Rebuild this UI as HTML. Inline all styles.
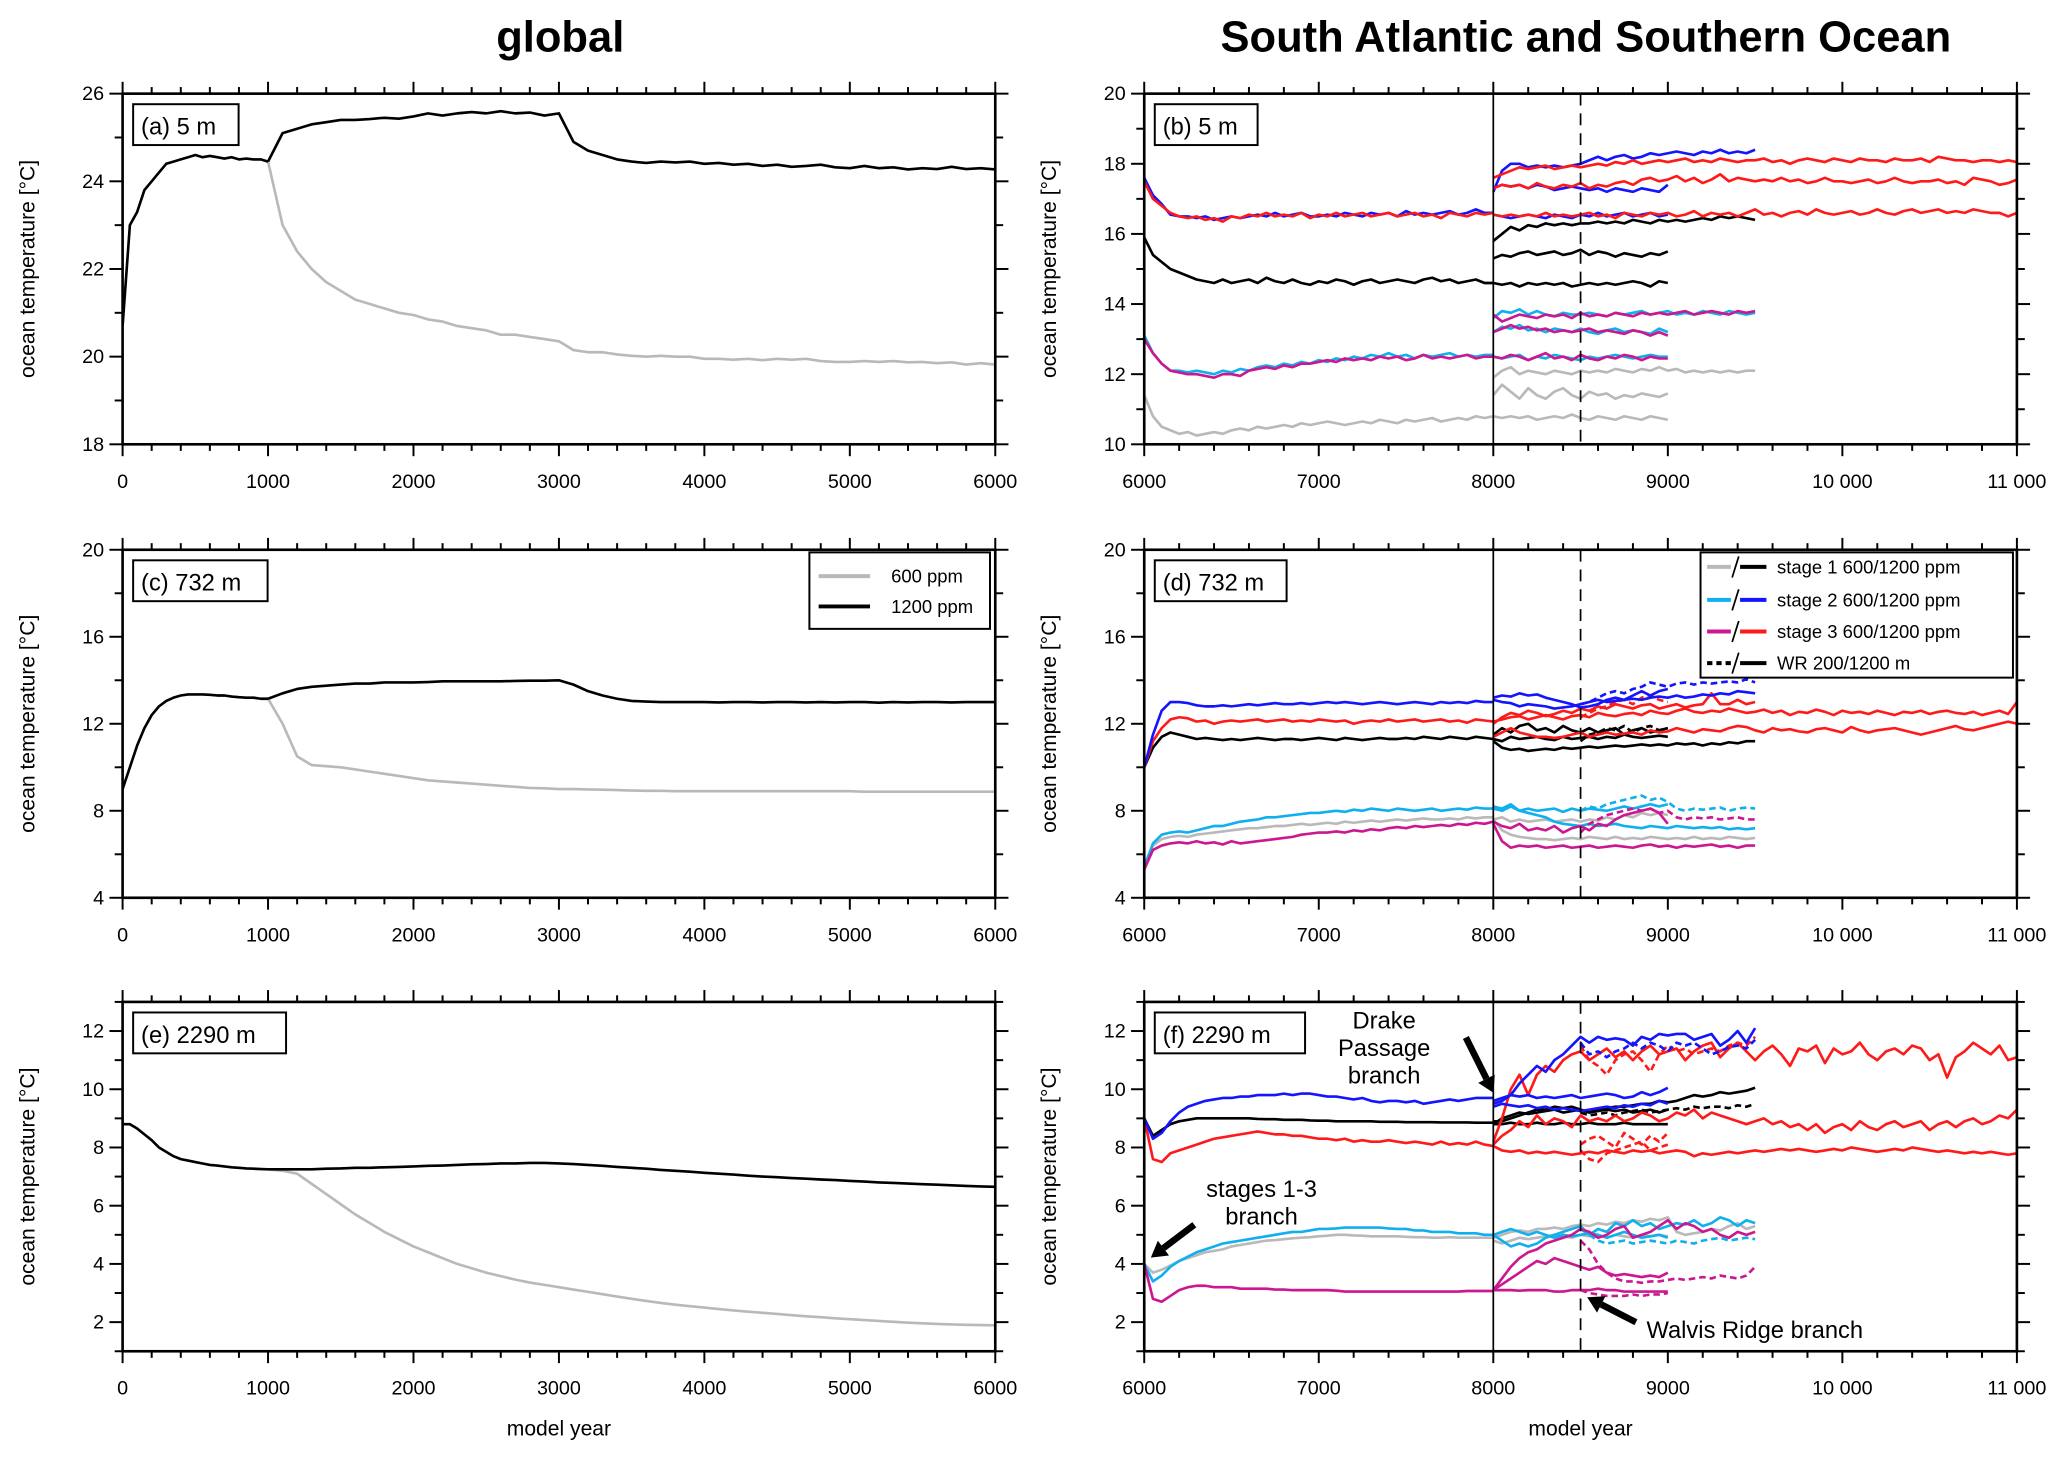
<!DOCTYPE html>
<html><head><meta charset="utf-8"><style>
html,body{margin:0;padding:0;background:#fff;}
svg{display:block;font-family:"Liberation Sans",Arial,sans-serif;}
</style></head><body>
<svg id="fig" width="2067" height="1466" viewBox="0 0 1568 1112" xmlns="http://www.w3.org/2000/svg">
<rect x="0" y="0" width="1568" height="1112" fill="#fff"/>
<text x="425" y="39" text-anchor="middle" font-size="33" font-weight="bold">global</text>
<text x="1203" y="39" text-anchor="middle" font-size="33" font-weight="bold">South Atlantic and Southern Ocean</text>
<g id="layer"></g>
</svg>
<script>
// ---- data: panel (a) global 5 m ----
const a_black_early = [20.7,23.0,23.3,23.8,24.0,24.2,24.4,24.45,24.5,24.55,24.6,24.55,24.58,24.55,24.52,24.55,24.5,24.52,24.5,24.5,24.45];
const a_black = [24.45,25.1,25.2,25.3,25.35,25.4,25.4,25.42,25.45,25.43,25.48,25.55,25.5,25.55,25.58,25.55,25.6,25.55,25.57,25.5,25.55,24.9,24.7,24.6,24.5,24.45,24.42,24.45,24.43,24.45,24.4,24.42,24.38,24.4,24.35,24.38,24.33,24.35,24.38,24.32,24.3,24.35,24.3,24.32,24.27,24.3,24.28,24.33,24.28,24.3,24.27];
const a_gray = [24.45,23.0,22.4,22.0,21.7,21.5,21.3,21.2,21.1,21.0,20.95,20.85,20.8,20.7,20.65,20.6,20.5,20.5,20.45,20.4,20.35,20.15,20.1,20.1,20.05,20.02,20.0,20.02,20.0,20.0,19.95,19.95,19.93,19.95,19.92,19.95,19.93,19.95,19.9,19.88,19.88,19.9,19.88,19.9,19.87,19.88,19.85,19.87,19.82,19.85,19.82];
// ---- panel (c) global 732 m ----
const c_black_early = [9.0,10.0,11.0,11.8,12.4,12.8,13.05,13.2,13.3,13.35,13.35,13.35,13.33,13.3,13.3,13.25,13.22,13.2,13.2,13.15,13.15];
const c_black = [13.15,13.4,13.6,13.7,13.75,13.8,13.85,13.85,13.9,13.9,13.9,13.92,13.95,13.95,13.95,13.95,13.95,13.97,13.98,13.98,14.0,13.8,13.5,13.3,13.15,13.05,13.02,13.0,13.0,13.0,13.0,12.98,13.0,13.0,12.98,13.0,13.0,12.98,13.0,12.98,13.0,13.0,12.97,13.0,12.98,13.0,13.0,12.98,13.0,13.0,13.0];
const c_gray = [13.15,12.0,10.5,10.1,10.05,10.0,9.9,9.8,9.7,9.6,9.5,9.4,9.35,9.3,9.25,9.2,9.15,9.1,9.05,9.03,9.0,9.0,8.98,8.97,8.95,8.93,8.92,8.92,8.9,8.9,8.9,8.9,8.9,8.9,8.9,8.9,8.9,8.9,8.9,8.9,8.9,8.88,8.88,8.88,8.88,8.88,8.88,8.88,8.88,8.88,8.88];
// ---- panel (e) global 2290 m ----
const e_black_early = [8.8,8.8,8.65,8.45,8.25,8.0,7.85,7.7,7.6,7.55,7.5,7.45,7.4,7.38,7.35,7.32,7.3,7.28,7.27,7.26,7.25];
const e_black = [7.25,7.25,7.25,7.25,7.27,7.28,7.3,7.3,7.32,7.33,7.35,7.37,7.38,7.4,7.42,7.43,7.45,7.45,7.47,7.47,7.45,7.43,7.4,7.37,7.33,7.3,7.27,7.23,7.2,7.17,7.13,7.1,7.07,7.03,7.0,6.98,6.95,6.93,6.9,6.88,6.85,6.83,6.8,6.78,6.76,6.74,6.72,6.7,6.68,6.66,6.65];
const e_gray = [7.25,7.2,7.1,6.75,6.4,6.05,5.7,5.4,5.1,4.85,4.6,4.4,4.2,4.0,3.85,3.7,3.58,3.46,3.36,3.28,3.2,3.12,3.04,2.96,2.88,2.8,2.73,2.66,2.6,2.55,2.5,2.45,2.4,2.36,2.32,2.28,2.24,2.2,2.17,2.13,2.1,2.07,2.04,2.01,1.98,1.96,1.94,1.92,1.91,1.9,1.89];
// ---- panel (b) SA 5 m ----
const b_red = [17.5,17.0,16.8,16.6,16.5,16.45,16.5,16.4,16.45,16.35,16.5,16.45,16.55,16.5,16.6,16.5,16.55,16.5,16.6,16.45,16.55,16.5,16.6,16.5,16.55,16.6,16.5,16.55,16.6,16.5,16.55,16.6,16.5,16.55,16.45,16.6,16.55,16.5,16.6,16.55,16.6];
const b_blue = [17.6,17.1,16.85,16.55,16.5,16.5,16.45,16.5,16.4,16.45,16.5,16.45,16.5,16.55,16.5,16.6,16.5,16.55,16.6,16.5,16.5,16.55,16.5,16.6,16.55,16.5,16.6,16.55,16.6,16.5,16.65,16.55,16.6,16.55,16.6,16.65,16.55,16.6,16.7,16.6,16.6];
const b_blue_up = [17.2,17.8,18.0,18.0,17.9,17.95,17.9,17.95,17.9,17.95,18.0,18.1,18.2,18.1,18.2,18.25,18.15,18.2,18.3,18.25,18.3,18.35,18.3,18.25,18.35,18.3,18.4,18.3,18.35,18.3,18.4];
const b_red_up = [17.6,17.7,17.8,17.9,17.85,17.9,17.95,17.85,17.9,17.95,17.9,17.95,18.0,17.95,18.05,18.0,18.1,18.0,18.05,18.1,18.05,18.1,18.15,18.05,18.1,18.05,18.15,18.1,18.05,18.1,18.1,18.15,18.05,18.1,18.0,18.1,18.15,18.1,18.05,18.15,18.1,18.05,18.15,18.1,18.1,18.05,18.15,18.1,18.1,18.15,18.05,18.2,18.15,18.1,18.1,18.05,18.1,18.1,18.05,18.1,18.05];
const b_red_mid = [17.3,17.4,17.35,17.4,17.3,17.45,17.35,17.3,17.4,17.35,17.45,17.3,17.4,17.35,17.45,17.5,17.4,17.55,17.6,17.5,17.55,17.65,17.5,17.6,17.45,17.55,17.7,17.5,17.6,17.55,17.5,17.55,17.5,17.6,17.5,17.55,17.45,17.5,17.6,17.5,17.5,17.45,17.5,17.55,17.45,17.5,17.6,17.5,17.45,17.5,17.5,17.55,17.45,17.5,17.4,17.6,17.55,17.5,17.4,17.45,17.55];
const b_blue_mid = [17.3,17.4,17.35,17.4,17.3,17.4,17.35,17.25,17.3,17.35,17.3,17.25,17.3,17.2,17.3,17.25,17.2,17.3,17.25,17.2,17.4];
const b_red_low = [16.55,16.5,16.55,16.5,16.55,16.5,16.6,16.5,16.55,16.5,16.55,16.6,16.5,16.55,16.45,16.6,16.55,16.5,16.6,16.55,16.6,16.5,16.55,16.65,16.5,16.6,16.55,16.6,16.5,16.6,16.7,16.55,16.6,16.5,16.6,16.65,16.55,16.7,16.6,16.55,16.6,16.65,16.55,16.6,16.7,16.6,16.55,16.65,16.7,16.6,16.65,16.7,16.6,16.65,16.6,16.7,16.65,16.6,16.6,16.5,16.6];
const b_blue_low = [16.55,16.5,16.45,16.5,16.55,16.5,16.45,16.55,16.5,16.45,16.55,16.5,16.6,16.5,16.55,16.6,16.5,16.55,16.6,16.5,16.55];
const b_black = [15.9,15.4,15.2,15.0,14.9,14.8,14.7,14.65,14.6,14.7,14.6,14.65,14.7,14.6,14.75,14.65,14.6,14.7,14.6,14.55,14.65,14.6,14.7,14.65,14.55,14.65,14.7,14.6,14.65,14.7,14.65,14.6,14.7,14.75,14.65,14.7,14.6,14.65,14.7,14.6,14.6];
const b_black_up = [15.8,16.0,16.2,16.1,16.25,16.2,16.3,16.25,16.3,16.25,16.3,16.3,16.35,16.3,16.35,16.3,16.4,16.35,16.3,16.4,16.35,16.4,16.35,16.4,16.45,16.4,16.5,16.45,16.5,16.45,16.4];
const b_black_mid = [15.3,15.4,15.35,15.45,15.5,15.4,15.45,15.5,15.4,15.45,15.55,15.4,15.5,15.45,15.35,15.45,15.4,15.35,15.45,15.4,15.5];
const b_black_low = [14.6,14.55,14.6,14.5,14.6,14.55,14.6,14.55,14.6,14.5,14.55,14.6,14.55,14.6,14.55,14.6,14.65,14.6,14.5,14.65,14.6];
const b_mag = [13.0,12.6,12.3,12.1,12.05,12.0,12.0,11.95,11.9,12.0,12.0,11.95,12.1,12.15,12.2,12.15,12.25,12.2,12.3,12.3,12.35,12.4,12.35,12.45,12.4,12.45,12.4,12.5,12.45,12.5,12.4,12.45,12.55,12.45,12.5,12.45,12.5,12.55,12.45,12.5,12.5];
const b_cyan = [13.1,12.6,12.3,12.1,12.1,12.05,12.1,12.05,12.0,12.1,12.05,12.15,12.1,12.2,12.25,12.2,12.3,12.25,12.35,12.3,12.4,12.35,12.45,12.4,12.5,12.45,12.55,12.5,12.6,12.5,12.55,12.45,12.55,12.5,12.55,12.6,12.5,12.55,12.5,12.55,12.55];
const b_cyan_up = [13.6,13.8,13.75,13.85,13.7,13.8,13.7,13.65,13.75,13.7,13.7,13.75,13.7,13.65,13.75,13.7,13.75,13.8,13.7,13.75,13.8,13.7,13.75,13.7,13.8,13.75,13.7,13.8,13.75,13.7,13.75];
const b_mag_up = [13.7,13.5,13.6,13.7,13.65,13.6,13.7,13.65,13.7,13.6,13.75,13.65,13.7,13.65,13.75,13.7,13.65,13.75,13.7,13.75,13.7,13.75,13.8,13.7,13.75,13.8,13.75,13.7,13.8,13.75,13.8];
const b_cyan_mid = [13.2,13.35,13.3,13.4,13.25,13.3,13.2,13.3,13.25,13.2,13.3,13.2,13.15,13.25,13.3,13.2,13.25,13.2,13.15,13.3,13.2];
const b_mag_mid = [13.2,13.3,13.4,13.3,13.35,13.25,13.3,13.2,13.25,13.2,13.25,13.3,13.2,13.25,13.2,13.15,13.25,13.2,13.1,13.2,13.1];
const b_cyan_low = [12.5,12.45,12.5,12.55,12.4,12.5,12.45,12.55,12.5,12.45,12.4,12.5,12.45,12.5,12.55,12.5,12.45,12.5,12.55,12.5,12.5];
const b_mag_low = [12.5,12.45,12.55,12.5,12.4,12.5,12.6,12.45,12.5,12.4,12.55,12.45,12.4,12.5,12.45,12.55,12.5,12.4,12.5,12.45,12.45];
const b_gray = [11.4,10.8,10.5,10.4,10.3,10.35,10.25,10.3,10.35,10.3,10.4,10.45,10.4,10.5,10.45,10.5,10.55,10.5,10.6,10.55,10.6,10.65,10.6,10.55,10.6,10.65,10.6,10.7,10.65,10.6,10.7,10.65,10.7,10.75,10.65,10.7,10.75,10.7,10.8,10.75,10.8];
const b_gray_up = [11.9,12.1,12.2,12.0,12.1,12.05,12.0,12.1,12.05,12.0,12.1,12.05,12.1,12.05,12.15,12.1,12.05,12.15,12.1,12.2,12.1,12.15,12.05,12.1,12.05,12.1,12.05,12.1,12.05,12.1,12.1];
const b_gray_mid = [11.4,11.7,11.5,11.3,11.6,11.4,11.3,11.5,11.6,11.4,11.3,11.5,11.4,11.45,11.3,11.4,11.35,11.45,11.4,11.35,11.45];
const b_gray_low = [10.8,10.75,10.8,10.75,10.8,10.7,10.75,10.8,10.75,10.85,10.75,10.7,10.8,10.75,10.7,10.8,10.75,10.7,10.8,10.75,10.7];
// ---- panel (d) SA 732 m ----
const d_blue = [10.0,11.5,12.6,13.0,13.0,12.95,12.85,12.8,12.8,12.85,12.8,12.85,12.9,12.85,12.9,12.95,12.9,12.9,12.95,12.9,12.95,13.0,12.95,13.0,12.95,12.9,12.95,13.0,12.95,12.9,12.95,13.0,12.95,12.9,13.0,12.95,13.0,12.95,13.05,13.0,13.0];
const d_red = [10.0,11.2,11.8,12.2,12.3,12.25,12.1,12.15,12.0,12.1,12.15,12.1,12.15,12.2,12.1,12.15,12.2,12.1,12.15,12.1,12.2,12.15,12.1,12.15,12.0,12.1,12.15,12.1,12.2,12.1,12.15,12.2,12.1,12.15,12.2,12.1,12.15,12.05,12.2,12.15,12.1];
const d_black = [10.0,10.9,11.4,11.6,11.5,11.4,11.3,11.35,11.3,11.25,11.3,11.25,11.3,11.35,11.3,11.25,11.3,11.3,11.25,11.3,11.35,11.3,11.25,11.35,11.3,11.25,11.3,11.35,11.3,11.3,11.35,11.3,11.4,11.35,11.3,11.4,11.35,11.3,11.4,11.35,11.3];
const d_blue_a = [13.1,13.0,12.95,12.8,12.9,12.85,12.8,12.7,12.75,12.8,12.9,13.0,13.1,13.0,13.05,13.1,13.15,13.1,13.2,13.25,13.2,13.3,13.2,13.25,13.35,13.3,13.4,13.35,13.5,13.45,13.4];
const d_blue_b = [13.2,13.3,13.25,13.4,13.3,13.35,13.2,13.1,13.0,12.9,12.75,12.8,12.9,13.1,13.2,13.1,13.3,13.5,13.3,13.5,13.6];
const d_blue_dash = [12.9,13.0,13.2,13.4,13.5,13.4,13.6,13.7,13.9,13.8,13.7,13.85,13.9,13.8,13.9,13.85,13.9,13.95,13.9,14.05,13.9];
const d_red_a = [11.4,11.6,11.8,11.6,11.5,11.4,11.4,11.35,11.4,11.5,11.6,11.4,11.5,11.6,11.5,11.55,11.6,11.5,11.7,11.6,11.65,11.8,11.7,11.6,11.75,11.7,11.65,11.8,11.9,11.85,11.7,11.6,11.8,11.7,11.75,11.65,11.6,11.75,11.8,11.7,11.6,11.85,11.7,11.6,11.7,11.75,11.8,11.7,11.6,11.5,11.6,11.7,11.8,11.9,11.75,11.7,11.8,11.9,12.0,12.1,12.0];
const d_red_b = [12.1,12.2,12.3,12.35,12.2,12.3,12.4,12.3,12.2,12.35,12.4,12.3,12.5,12.4,12.35,12.45,12.5,12.4,12.6,12.5,12.45,12.6,12.7,12.55,12.5,12.6,12.55,12.7,12.6,12.5,12.55,12.65,12.5,12.6,12.4,12.55,12.5,12.65,12.55,12.4,12.6,12.5,12.55,12.45,12.6,12.5,12.4,12.55,12.5,12.6,12.45,12.55,12.6,12.5,12.45,12.55,12.4,12.5,12.6,12.45,13.0];
const d_red_c = [12.0,12.3,12.5,12.4,12.6,12.5,12.35,12.45,12.6,12.5,12.7,12.6,12.8,12.7,12.9,12.8,12.7,12.85,12.9,12.7,12.8,12.9,12.75,12.85,12.9,13.4,12.9,12.9,13.1,12.9,13.0];
const d_red_dash = [12.3,12.5,12.7,12.8,13.0,13.1,12.9,13.2,13.3,13.1,13.0];
const d_black_a = [11.2,10.9,10.8,10.85,10.75,10.8,10.85,10.8,10.9,10.85,10.9,10.95,10.9,10.95,11.0,10.95,11.0,11.05,11.0,11.05,11.0,11.1,11.05,11.1,11.0,11.1,11.05,11.15,11.1,11.2,11.2];
const d_black_b = [11.5,11.8,11.6,11.9,12.0,11.7,11.8,11.6,11.9,11.7,11.6,11.8,11.6,11.7,11.8,11.5,11.7,11.8,11.6,11.7,11.8];
const d_black_c = [11.3,11.2,11.4,11.3,11.35,11.4,11.3,11.25,11.4,11.3,11.35,11.4,11.3,11.4,11.35,11.5,11.4,11.35,11.4,11.45,11.4];
const d_black_dash = [11.2,11.5,11.6,11.8,11.7,11.9,11.6,11.8,11.9,11.7,11.8];
const d_cyan = [5.4,6.5,6.9,7.0,7.05,7.0,7.1,7.2,7.3,7.3,7.4,7.5,7.55,7.6,7.7,7.7,7.75,7.8,7.85,7.9,7.9,7.95,8.0,7.95,8.05,8.0,8.1,8.05,8.0,8.1,8.05,8.0,8.05,8.1,8.0,8.05,8.1,8.05,8.15,8.1,8.1];
const d_gray = [5.5,6.4,6.7,6.8,6.85,6.8,6.9,6.95,7.0,7.05,7.1,7.15,7.2,7.2,7.25,7.3,7.3,7.35,7.4,7.35,7.4,7.45,7.4,7.5,7.45,7.5,7.55,7.5,7.55,7.6,7.55,7.6,7.65,7.6,7.6,7.65,7.6,7.7,7.65,7.7,7.7];
const d_mag = [5.3,6.2,6.4,6.5,6.55,6.5,6.6,6.5,6.55,6.45,6.6,6.5,6.55,6.6,6.65,6.7,6.75,6.8,6.9,6.95,7.0,7.0,7.05,7.0,7.1,7.05,7.15,7.1,7.2,7.25,7.2,7.3,7.25,7.3,7.35,7.3,7.4,7.35,7.45,7.4,7.5];
const d_cyan_a = [8.1,8.0,8.2,8.0,7.9,7.8,7.7,7.5,7.4,7.35,7.3,7.4,7.3,7.35,7.4,7.3,7.25,7.2,7.3,7.25,7.2,7.3,7.25,7.2,7.25,7.2,7.25,7.15,7.2,7.15,7.2];
const d_cyan_b = [8.2,8.1,8.3,8.0,8.1,8.0,8.05,8.1,7.95,8.1,8.0,8.1,8.05,8.0,8.1,8.2,8.1,8.2,8.3,8.2,8.3];
const d_cyan_dash = [8.0,8.2,8.1,8.3,8.4,8.5,8.6,8.7,8.5,8.6,8.4,8.1,8.0,8.1,8.05,8.1,8.15,8.0,8.1,8.15,8.1];
const d_gray_a = [7.6,7.1,6.9,6.8,6.75,6.7,6.7,6.65,6.7,6.75,6.7,6.8,6.75,6.7,6.8,6.7,6.75,6.7,6.8,6.75,6.7,6.75,6.7,6.8,6.7,6.75,6.7,6.8,6.75,6.7,6.75];
const d_gray_b = [7.6,7.7,7.5,7.6,7.5,7.55,7.6,7.5,7.55,7.6,7.5,7.6,7.55,7.7,7.6,7.8,7.7,7.9,7.8,7.9,7.8];
const d_mag_a = [7.4,6.6,6.3,6.4,6.35,6.4,6.3,6.35,6.4,6.3,6.35,6.4,6.3,6.35,6.4,6.35,6.3,6.4,6.45,6.35,6.4,6.3,6.4,6.35,6.4,6.45,6.35,6.4,6.3,6.4,6.4];
const d_mag_b = [7.5,7.3,7.2,7.4,7.1,7.2,7.1,7.3,7.0,7.2,7.3,7.1,7.4,7.3,7.6,7.8,7.9,8.0,8.1,7.9,7.4];
const d_mag_dash = [7.0,7.4,7.6,7.8,7.9,8.0,8.1,8.0,8.1,7.9,8.0,7.7,7.6,7.7,7.65,7.7,7.6,7.65,7.7,7.6,7.6];
// ---- panel (f) SA 2290 m ----
const f_blue = [9.0,8.3,8.5,8.9,9.2,9.4,9.5,9.6,9.65,9.7,9.7,9.75,9.75,9.8,9.8,9.8,9.85,9.8,9.85,9.85,9.8,9.75,9.75,9.7,9.65,9.7,9.6,9.55,9.6,9.6,9.55,9.6,9.5,9.55,9.6,9.65,9.6,9.65,9.7,9.7,9.7];
const f_black = [9.0,8.4,8.6,8.8,8.9,8.95,9.0,9.0,9.0,9.0,9.0,9.0,9.0,8.98,8.97,8.97,8.95,8.95,8.95,8.93,8.92,8.92,8.9,8.9,8.9,8.9,8.9,8.88,8.88,8.88,8.87,8.87,8.87,8.87,8.86,8.86,8.86,8.86,8.85,8.85,8.85];
const f_red = [9.0,7.6,7.5,7.8,7.9,8.0,8.1,8.2,8.3,8.35,8.4,8.45,8.5,8.55,8.5,8.45,8.45,8.4,8.4,8.35,8.3,8.3,8.25,8.3,8.2,8.25,8.2,8.2,8.25,8.2,8.15,8.2,8.15,8.1,8.2,8.1,8.15,8.1,8.2,8.1,8.05];
const f_blue_up = [9.5,9.6,9.8,10.2,10.5,10.8,10.6,11.0,11.2,11.5,11.8,11.6,11.8,11.7,11.75,11.7,11.5,11.8,11.7,11.9,11.85,11.9,11.9,11.7,11.8,11.9,11.5,11.7,12.0,11.6,12.1];
const f_blue_dash = [11.6,11.2,11.3,11.1,11.3,11.4,11.6,11.4,11.6,11.5,11.3,11.6,11.5,11.6,11.4,11.2,11.3,11.45,11.5,11.4,11.7];
const f_blue_mid = [9.6,9.7,9.8,9.75,9.8,9.7,9.75,9.7,9.75,9.8,9.7,9.75,9.8,9.85,9.8,9.7,9.75,9.9,9.8,9.9,10.05];
const f_blue_low = [9.4,9.5,9.45,9.4,9.45,9.35,9.4,9.3,9.35,9.3,9.25,9.3,9.35,9.4,9.35,9.45,9.4,9.5,9.45,9.6,9.5];
const f_red_up = [8.2,9.0,10.0,10.5,9.8,10.5,10.8,10.6,11.0,11.2,11.3,11.0,11.2,11.4,11.1,11.3,11.0,11.3,11.5,11.2,11.3,11.4,11.0,11.3,11.5,11.6,11.1,11.4,11.6,11.3,11.0,11.3,11.5,11.2,10.8,11.4,11.3,11.5,10.9,11.4,11.2,11.3,11.6,11.2,11.0,11.3,11.4,11.2,11.5,11.4,11.0,11.2,10.4,11.1,11.3,11.6,11.4,11.2,11.5,11.0,11.1];
const f_red_mid = [8.1,8.4,8.6,8.9,8.7,9.1,8.8,9.0,8.9,8.7,9.1,8.9,9.0,8.9,9.1,8.9,9.0,9.2,9.1,8.9,9.0,9.2,9.1,9.3,9.0,9.2,9.1,9.0,8.9,8.8,8.9,9.0,8.8,8.9,8.7,8.8,8.6,8.8,8.5,8.7,8.8,8.6,8.9,8.7,8.6,8.8,8.9,8.7,8.8,8.9,8.6,8.8,8.9,8.7,8.9,9.0,8.8,8.9,9.1,9.0,9.3];
const f_red_low = [8.05,7.9,7.85,7.9,7.8,7.85,7.8,7.85,7.8,7.75,7.8,7.85,7.8,7.9,7.85,7.8,7.9,7.85,7.9,7.8,7.85,7.9,7.85,7.7,7.8,7.75,7.8,7.85,7.8,7.85,7.9,7.85,7.9,7.95,7.9,7.95,7.9,7.85,7.9,7.95,7.9,8.0,7.95,7.9,7.85,7.9,7.95,7.9,8.0,7.95,7.9,7.85,7.9,7.85,7.8,7.85,7.8,7.85,7.8,7.75,7.8];
const f_red_dash_a = [11.5,11.0,10.8,10.5,11.0,11.2,11.3,11.0,10.6,11.2,11.5,11.3,11.4,11.2,11.3,11.4,11.3,11.5,11.6,11.5,11.8];
const f_red_dash_b = [7.9,7.6,7.5,7.8,7.9,8.0,8.1,8.2,7.9,8.0,8.1];
const f_red_dash_c = [8.1,8.3,8.4,8.2,8.0,8.5,8.3,8.1,8.4,8.2,8.5];
const f_black_up = [8.9,8.9,9.0,9.1,9.2,9.3,9.3,9.4,9.35,9.4,9.3,9.2,9.3,9.35,9.4,9.4,9.45,9.5,9.5,9.6,9.55,9.6,9.7,9.8,9.75,9.8,9.9,9.85,9.9,9.95,10.05];
const f_black_mid = [8.8,9.0,9.1,9.2,9.15,9.2,9.25,9.3,9.2,9.25,9.3,9.2,9.25,9.3,9.25,9.3,9.2,9.25,9.3,9.2,9.3];
const f_black_low = [8.8,8.8,8.85,8.8,8.8,8.85,8.8,8.8,8.85,8.8,8.8,8.85,8.8,8.8,8.8,8.85,8.8,8.8,8.8,8.8,8.8];
const f_black_dash = [9.2,9.1,9.15,9.2,9.1,9.2,9.25,9.3,9.2,9.25,9.3,9.35,9.3,9.4,9.35,9.4,9.4,9.35,9.45,9.4,9.5];
const f_cyan = [4.0,3.4,3.6,3.9,4.1,4.25,4.4,4.5,4.6,4.7,4.75,4.8,4.85,4.9,4.95,5.0,5.05,5.1,5.1,5.15,5.2,5.2,5.22,5.25,5.25,5.25,5.25,5.25,5.22,5.2,5.2,5.15,5.15,5.1,5.1,5.1,5.05,5.05,5.05,5.0,5.0];
const f_gray = [4.0,3.7,3.8,3.95,4.1,4.2,4.3,4.4,4.45,4.5,4.6,4.65,4.7,4.75,4.8,4.82,4.85,4.88,4.9,4.92,4.95,4.97,5.0,5.0,4.98,4.97,4.95,4.95,4.95,4.95,4.93,4.92,4.92,4.9,4.9,4.92,4.9,4.9,4.9,4.9,4.9];
const f_mag = [4.0,2.8,2.7,2.9,3.1,3.2,3.25,3.25,3.2,3.2,3.2,3.15,3.15,3.15,3.15,3.12,3.12,3.1,3.1,3.1,3.1,3.1,3.08,3.05,3.05,3.05,3.05,3.05,3.05,3.05,3.05,3.05,3.05,3.05,3.05,3.05,3.05,3.07,3.07,3.07,3.07];
const f_cyan_a = [5.0,4.8,4.6,4.7,4.6,4.7,4.9,5.0,5.1,5.2,5.3,5.0,5.2,5.1,5.4,5.3,5.5,5.3,5.4,5.2,5.3,5.4,5.35,5.5,5.3,5.4,5.6,5.5,5.3,5.5,5.4];
const f_cyan_b = [5.0,5.1,5.2,5.1,5.0,5.1,5.0,4.9,5.0,4.95,5.0,5.05,5.0,4.9,5.0,5.1,5.0,4.9,4.95,5.0,4.9];
const f_cyan_dash = [5.2,5.0,4.8,4.7,4.75,4.8,4.7,4.75,4.8,4.75,4.7,4.8,4.75,4.7,4.8,4.85,4.9,4.8,4.85,4.9,4.85];
const f_gray_a = [4.9,5.0,5.1,5.15,5.1,5.2,5.2,5.25,5.2,5.3,5.35,5.3,5.4,5.35,5.45,5.4,5.5,5.45,5.55,5.5,5.6,5.1,5.0,5.05,5.1,5.2,5.15,5.3,5.4,5.2,5.3];
const f_gray_b = [4.8,4.7,4.8,4.9,4.85,4.9,4.95,5.0,4.95,4.9,5.0,4.95,5.0,4.9,5.0,4.95,4.9,5.0,4.95,5.0,4.95];
const f_mag_a = [3.1,3.5,3.9,4.2,4.4,4.5,4.7,4.8,4.9,5.0,5.2,5.1,4.9,5.0,5.2,5.3,4.9,5.0,5.1,5.3,5.5,5.2,5.4,5.3,5.1,5.2,5.0,4.9,5.1,5.0,5.1];
const f_mag_b = [3.1,3.3,3.5,3.7,3.9,4.1,4.0,4.2,4.1,4.0,3.9,3.8,3.9,3.7,3.6,3.65,3.6,3.55,3.6,3.55,3.7];
const f_mag_c = [3.1,3.1,3.1,3.08,3.1,3.1,3.1,3.05,3.05,3.1,3.1,3.1,3.15,3.1,3.1,3.05,3.05,3.05,3.05,3.05,3.05];
const f_mag_dash = [4.8,4.5,4.0,3.7,3.5,3.4,3.4,3.35,3.4,3.4,3.45,3.5,3.45,3.5,3.55,3.5,3.6,3.55,3.5,3.6,3.9];
const f_mag_dash2 = [3.1,3.0,2.95,2.9,2.9,2.9,2.95,2.9,2.95,2.95,3.0];
// tick labels
const xTicksGlobal = [0,1000,2000,3000,4000,5000,6000];
const xLabelsGlobal = ["0","1000","2000","3000","4000","5000","6000"];
const xTicksSA = [6000,7000,8000,9000,10000,11000];
const xLabelsSA = ["6000","7000","8000","9000","10 000","11 000"];

const NS='http://www.w3.org/2000/svg';
const layer=document.getElementById('layer');
function mk(tag,attrs,parent){const e=document.createElementNS(NS,tag);for(const k in attrs)e.setAttribute(k,attrs[k]);(parent||layer).appendChild(e);return e;}
const COL={black:'#000',gray:'#b9b9b9',blue:'#1414ff',red:'#ff1a1a',cyan:'#10b0ee',mag:'#cc1890'};

const panels={
 a:{x0:93,x1:755,y0:71,y1:337,xmin:0,xmax:6000,ymin:18,ymax:26,ymaj:2,ymin2:1,label:'(a) 5 m',lw:80,glob:true},
 c:{x0:93,x1:755,y0:417,y1:681,xmin:0,xmax:6000,ymin:4,ymax:20,ymaj:4,ymin2:2,label:'(c) 732 m',lw:102,glob:true},
 e:{x0:93,x1:755,y0:760,y1:1025,xmin:0,xmax:6000,ymin:1,ymax:13,ymaj:2,ymin2:1,label:'(e) 2290 m',lw:116,glob:true,xtitle:true},
 b:{x0:868,x1:1530,y0:71,y1:337,xmin:6000,xmax:11000,ymin:10,ymax:20,ymaj:2,ymin2:1,label:'(b) 5 m',lw:78,glob:false},
 d:{x0:868,x1:1530,y0:417,y1:681,xmin:6000,xmax:11000,ymin:4,ymax:20,ymaj:4,ymin2:2,label:'(d) 732 m',lw:100,glob:false},
 f:{x0:868,x1:1530,y0:760,y1:1025,xmin:6000,xmax:11000,ymin:1,ymax:13,ymaj:2,ymin2:1,label:'(f) 2290 m',lw:114,glob:false,xtitle:true}
};
function sx(p,v){return p.x0+(v-p.xmin)/(p.xmax-p.xmin)*(p.x1-p.x0);}
function sy(p,v){return p.y1-(v-p.ymin)/(p.ymax-p.ymin)*(p.y1-p.y0);}

function series(pk,vals,start,step,color,name,dashed){
 const p=panels[pk];let d='';
 vals.forEach((v,i)=>{d+=(i?'L':'M')+sx(p,start+i*step).toFixed(2)+','+sy(p,v).toFixed(2);});
 const el=mk('path',{d:d,fill:'none',stroke:COL[color],'stroke-width':2,'stroke-linejoin':'round','clip-path':'url(#clip-'+pk+')'});
 if(dashed)el.setAttribute('stroke-dasharray','5,3');
 
 
}

const defs=mk('defs',{});
for(const k in panels){const p=panels[k];
 const cp=mk('clipPath',{id:'clip-'+k},defs);mk('rect',{x:p.x0,y:p.y0,width:p.x1-p.x0,height:p.y1-p.y0},cp);}

// series drawing
series('a',a_gray,1000,100,'gray','series-a-600ppm');
series('a',a_black_early,0,50,'black','series-a-spinup');
series('a',a_black,1000,100,'black','series-a-1200ppm');
series('c',c_gray,1000,100,'gray','series-c-600ppm');
series('c',c_black_early,0,50,'black','series-c-spinup');
series('c',c_black,1000,100,'black','series-c-1200ppm');
series('e',e_gray,1000,100,'gray','series-e-600ppm');
series('e',e_black_early,0,50,'black','series-e-spinup');
series('e',e_black,1000,100,'black','series-e-1200ppm');

[['b_gray',b_gray,6000,'gray'],['b_gray_up',b_gray_up,8000,'gray'],['b_gray_mid',b_gray_mid,8000,'gray'],['b_gray_low',b_gray_low,8000,'gray'],
 ['b_cyan',b_cyan,6000,'cyan'],['b_mag',b_mag,6000,'mag'],['b_cyan_up',b_cyan_up,8000,'cyan'],['b_mag_up',b_mag_up,8000,'mag'],
 ['b_cyan_mid',b_cyan_mid,8000,'cyan'],['b_mag_mid',b_mag_mid,8000,'mag'],['b_cyan_low',b_cyan_low,8000,'cyan'],['b_mag_low',b_mag_low,8000,'mag'],
 ['b_black',b_black,6000,'black'],['b_black_up',b_black_up,8000,'black'],['b_black_mid',b_black_mid,8000,'black'],['b_black_low',b_black_low,8000,'black'],
 ['b_blue',b_blue,6000,'blue'],['b_red',b_red,6000,'red'],['b_blue_up',b_blue_up,8000,'blue'],['b_blue_mid',b_blue_mid,8000,'blue'],['b_blue_low',b_blue_low,8000,'blue'],
 ['b_red_up',b_red_up,8000,'red'],['b_red_mid',b_red_mid,8000,'red'],['b_red_low',b_red_low,8000,'red']
].forEach(s=>series('b',s[1],s[2],50,s[3],'series-'+s[0].replace(/_/g,'-')));

[['d_gray',d_gray,6000,'gray'],['d_cyan',d_cyan,6000,'cyan'],['d_mag',d_mag,6000,'mag'],
 ['d_gray_a',d_gray_a,8000,'gray'],['d_gray_b',d_gray_b,8000,'gray'],['d_cyan_a',d_cyan_a,8000,'cyan'],['d_cyan_b',d_cyan_b,8000,'cyan'],['d_cyan_dash',d_cyan_dash,8500,'cyan',1],
 ['d_mag_a',d_mag_a,8000,'mag'],['d_mag_b',d_mag_b,8000,'mag'],['d_mag_dash',d_mag_dash,8500,'mag',1],
 ['d_black',d_black,6000,'black'],['d_black_a',d_black_a,8000,'black'],['d_black_b',d_black_b,8000,'black'],['d_black_c',d_black_c,8000,'black'],['d_black_dash',d_black_dash,8500,'black',1],
 ['d_red',d_red,6000,'red'],['d_red_a',d_red_a,8000,'red'],['d_red_b',d_red_b,8000,'red'],['d_red_c',d_red_c,8000,'red'],['d_red_dash',d_red_dash,8500,'red',1],
 ['d_blue',d_blue,6000,'blue'],['d_blue_a',d_blue_a,8000,'blue'],['d_blue_b',d_blue_b,8000,'blue'],['d_blue_dash',d_blue_dash,8500,'blue',1]
].forEach(s=>series('d',s[1],s[2],50,s[3],'series-'+s[0].replace(/_/g,'-'),s[4]));

[['f_gray',f_gray,6000,'gray'],['f_cyan',f_cyan,6000,'cyan'],['f_mag',f_mag,6000,'mag'],
 ['f_gray_a',f_gray_a,8000,'gray'],['f_gray_b',f_gray_b,8000,'gray'],['f_cyan_a',f_cyan_a,8000,'cyan'],['f_cyan_b',f_cyan_b,8000,'cyan'],['f_cyan_dash',f_cyan_dash,8500,'cyan',1],
 ['f_mag_a',f_mag_a,8000,'mag'],['f_mag_b',f_mag_b,8000,'mag'],['f_mag_c',f_mag_c,8000,'mag'],['f_mag_dash',f_mag_dash,8500,'mag',1],['f_mag_dash2',f_mag_dash2,8500,'mag',1],
 ['f_black',f_black,6000,'black'],['f_black_up',f_black_up,8000,'black'],['f_black_mid',f_black_mid,8000,'black'],['f_black_low',f_black_low,8000,'black'],['f_black_dash',f_black_dash,8500,'black',1],
 ['f_red',f_red,6000,'red'],['f_red_up',f_red_up,8000,'red'],['f_red_mid',f_red_mid,8000,'red'],['f_red_low',f_red_low,8000,'red'],['f_red_dash_a',f_red_dash_a,8500,'red',1],['f_red_dash_b',f_red_dash_b,8500,'red',1],['f_red_dash_c',f_red_dash_c,8500,'red',1],
 ['f_blue',f_blue,6000,'blue'],['f_blue_up',f_blue_up,8000,'blue'],['f_blue_mid',f_blue_mid,8000,'blue'],['f_blue_low',f_blue_low,8000,'blue'],['f_blue_dash',f_blue_dash,8500,'blue',1]
].forEach(s=>series('f',s[1],s[2],50,s[3],'series-'+s[0].replace(/_/g,'-'),s[4]));

// axes
for(const k in panels){const p=panels[k];
 const g=mk('g',{});
 
 
 if(!p.glob){
  const v1=mk('line',{x1:sx(p,8000),x2:sx(p,8000),y1:p.y0,y2:p.y1,stroke:'#000','stroke-width':1.3},g);
  
  
  const v2=mk('line',{x1:sx(p,8500),x2:sx(p,8500),y1:p.y0,y2:p.y1,stroke:'#000','stroke-width':1.3,'stroke-dasharray':'9,6'},g);
  
  
 }
 mk('rect',{x:p.x0,y:p.y0,width:p.x1-p.x0,height:p.y1-p.y0,fill:'none',stroke:'#000','stroke-width':2},g);
 // x ticks
 for(let v=p.xmin;v<=p.xmax+1e-6;v+=200){const X=sx(p,v);const maj=(v%1000===0);const L=maj?9:5;
  mk('line',{x1:X,x2:X,y1:p.y1,y2:p.y1+L,stroke:'#000','stroke-width':1.5},g);
  mk('line',{x1:X,x2:X,y1:p.y0,y2:p.y0-L,stroke:'#000','stroke-width':1.5},g);}
 const xt=p.glob?xTicksGlobal:xTicksSA, xl=p.glob?xLabelsGlobal:xLabelsSA;
 xt.forEach((v,i)=>{const t=mk('text',{x:sx(p,v),y:p.y1+33,'text-anchor':'middle','font-size':15},g);t.textContent=xl[i];
  
  });
 // y ticks
 for(let v=p.ymin;v<=p.ymax+1e-6;v+=p.ymin2){const Y=sy(p,v);const maj=(Math.abs((v/p.ymaj)-Math.round(v/p.ymaj))<1e-6);const L=maj?10:6;
  mk('line',{x1:p.x0-L,x2:p.x0,y1:Y,y2:Y,stroke:'#000','stroke-width':1.5},g);
  mk('line',{x1:p.x1,x2:p.x1+L,y1:Y,y2:Y,stroke:'#000','stroke-width':1.5},g);
  if(maj){const t=mk('text',{x:p.x0-14,y:Y+5,'text-anchor':'end','font-size':15},g);t.textContent=String(v);
   
   }}
 const yt=mk('text',{x:0,y:0,'text-anchor':'middle','font-size':16,transform:'translate('+(p.x0-67)+','+((p.y0+p.y1)/2)+') rotate(-90)'},g);
 yt.textContent='ocean temperature [°C]';
 
 
 if(p.xtitle){const xt2=mk('text',{x:(p.x0+p.x1)/2,y:p.y1+64,'text-anchor':'middle','font-size':16},g);xt2.textContent='model year';
  
  }
 // panel label
 const lb=mk('g',{},g);
 
 
 mk('rect',{x:p.x0+8,y:p.y0+8,width:p.lw,height:31,fill:'#fff',stroke:'#000','stroke-width':1.5},lb);
 const lt=mk('text',{x:p.x0+14,y:p.y0+31,'font-size':18},lb);lt.textContent=p.label;
}

// legend c
(function(){const g=mk('g',{});
 
 
 mk('rect',{x:614,y:419,width:137,height:58,fill:'#fff',stroke:'#000','stroke-width':1.5},g);
 [['600 ppm','gray',437],['1200 ppm','black',460]].forEach(r=>{
  const e=mk('g',{},g);
  
  
  mk('line',{x1:621,x2:660,y1:r[2],y2:r[2],stroke:COL[r[1]],'stroke-width':3},e);
  const t=mk('text',{x:676,y:r[2]+5,'font-size':14},e);t.textContent=r[0];});
})();
// legend d
(function(){const g=mk('g',{});
 
 
 mk('rect',{x:1290,y:419,width:237,height:95,fill:'#fff',stroke:'#000','stroke-width':1.5},g);
 [['stage 1 600/1200 ppm','gray','black',430,0],['stage 2 600/1200 ppm','cyan','blue',455,0],['stage 3 600/1200 ppm','mag','red',479,0],['WR 200/1200 m','black','black',503,1]].forEach(r=>{
  const e=mk('g',{},g);
  
  
  const l1=mk('line',{x1:1295,x2:1313,y1:r[3],y2:r[3],stroke:COL[r[1]],'stroke-width':3},e);
  if(r[4])l1.setAttribute('stroke-dasharray','4,3');
  mk('line',{x1:1314,x2:1319,y1:r[3]+8,y2:r[3]-8,stroke:'#000','stroke-width':1.3},e);
  mk('line',{x1:1320,x2:1340,y1:r[3],y2:r[3],stroke:COL[r[2]],'stroke-width':3},e);
  const t=mk('text',{x:1348,y:r[3]+5,'font-size':14},e);t.textContent=r[0];});
})();
// annotations panel f
function arrow(x1,y1,x2,y2,name){const g=mk('g',{});
 
 
 const dx=x2-x1,dy=y2-y1,L=Math.hypot(dx,dy),ux=dx/L,uy=dy/L;const hl=12,hw=7;
 const bx=x2-ux*hl,by=y2-uy*hl;
 mk('line',{x1:x1,y1:y1,x2:bx,y2:by,stroke:'#000','stroke-width':5},g);
 mk('polygon',{points:x2+','+y2+' '+(bx-uy*hw)+','+(by+ux*hw)+' '+(bx+uy*hw)+','+(by-ux*hw),fill:'#000'},g);}
function note(lines,x,y,anchor,name){const t=mk('text',{x:x,y:y,'text-anchor':anchor,'font-size':18});
 
 
 lines.forEach((s,i)=>{const ts=mk('tspan',{x:x,dy:i?21:0},t);ts.textContent=s;});}
note(['Drake','Passage','branch'],1050,780,'middle','annotation-drake-passage');
arrow(1112,787,1133,829,'arrow-drake-passage');
note(['stages 1-3','branch'],957,908,'middle','annotation-stages-branch');
arrow(906,929,873,954,'arrow-stages-branch');
note(['Walvis Ridge branch'],1249,1015,'start','annotation-walvis-ridge');
arrow(1241,1003,1204,984,'arrow-walvis-ridge');
</script>
</body></html>
